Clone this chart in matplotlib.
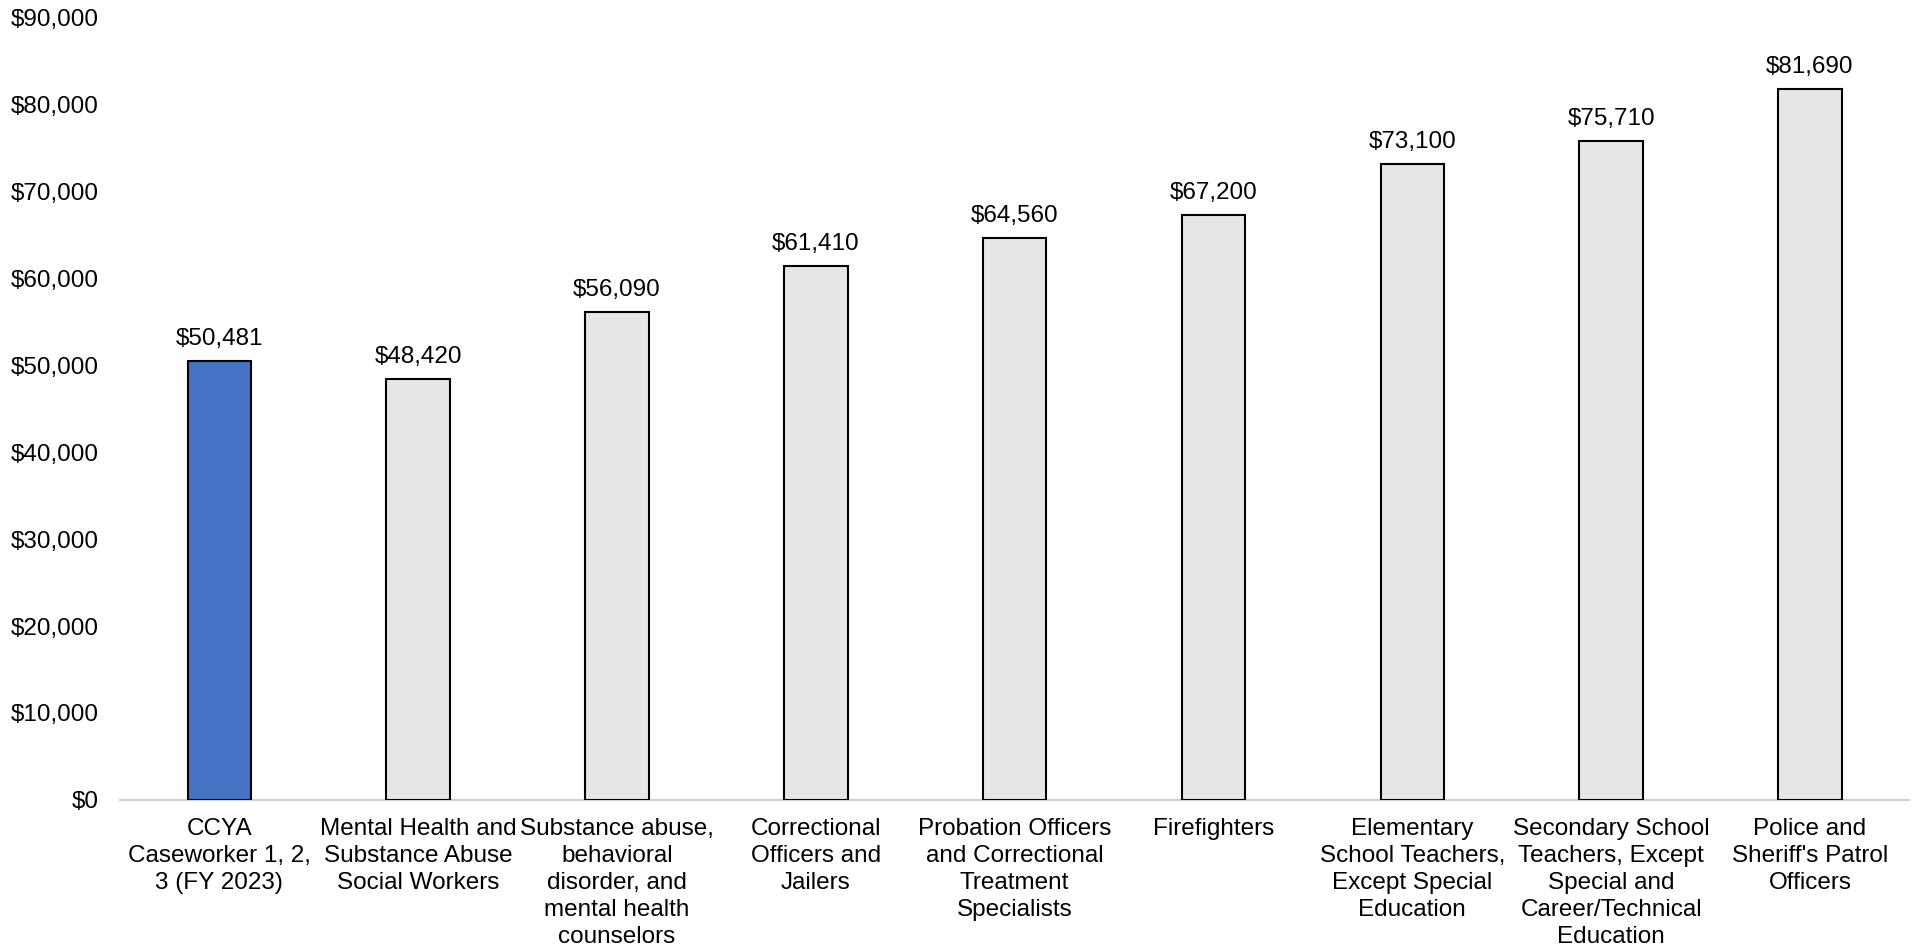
import matplotlib
matplotlib.use("Agg")
import matplotlib.pyplot as plt
from matplotlib.ticker import FuncFormatter

plt.rcParams['font.family'] = ['Liberation Sans', 'DejaVu Sans']

categories = [
    "CCYA\nCaseworker 1, 2,\n3 (FY 2023)",
    "Mental Health and\nSubstance Abuse\nSocial Workers",
    "Substance abuse,\nbehavioral\ndisorder, and\nmental health\ncounselors",
    "Correctional\nOfficers and\nJailers",
    "Probation Officers\nand Correctional\nTreatment\nSpecialists",
    "Firefighters",
    "Elementary\nSchool Teachers,\nExcept Special\nEducation",
    "Secondary School\nTeachers, Except\nSpecial and\nCareer/Technical\nEducation",
    "Police and\nSheriff's Patrol\nOfficers",
]
salaries = [50481, 48420, 56090, 61410, 64560, 67200, 73100, 75710, 81690]
y_ticks = [0, 10000, 20000, 30000, 40000, 50000, 60000, 70000, 80000, 90000]

colors = ['#4472C4'] + ['#E6E6E6'] * (len(salaries) - 1)

fig = plt.figure(figsize=(19.19, 9.51), dpi=100)
ax = fig.add_axes([0.0625, 0.1588, 0.9325, 0.8232])

x = list(range(len(categories)))
bars = ax.bar(x, salaries, width=0.32, color=colors, edgecolor='black', linewidth=1.5, zorder=3)

for xi, v in zip(x, salaries):
    ax.annotate(f"${v:,}", xy=(xi, v), xytext=(0, 8), textcoords='offset points',
                ha='center', va='bottom', fontsize=17.5)

ax.set_xlim(-0.5, len(categories) - 0.5)
ax.set_ylim(0, 90000)
ax.set_yticks(y_ticks)
ax.yaxis.set_major_formatter(FuncFormatter(lambda v, p: f"${int(v):,}"))
ax.set_xticks(x)
ax.set_xticklabels(categories, fontsize=17.5, linespacing=1.3)
ax.tick_params(axis='y', length=0, pad=15, labelsize=17.5)
ax.tick_params(axis='x', length=0, pad=13)

for s in ['top', 'right', 'left']:
    ax.spines[s].set_visible(False)
ax.spines['bottom'].set_color('#D0D0D0')
ax.spines['bottom'].set_linewidth(1.5)

fig.savefig('out.png', dpi=100)
